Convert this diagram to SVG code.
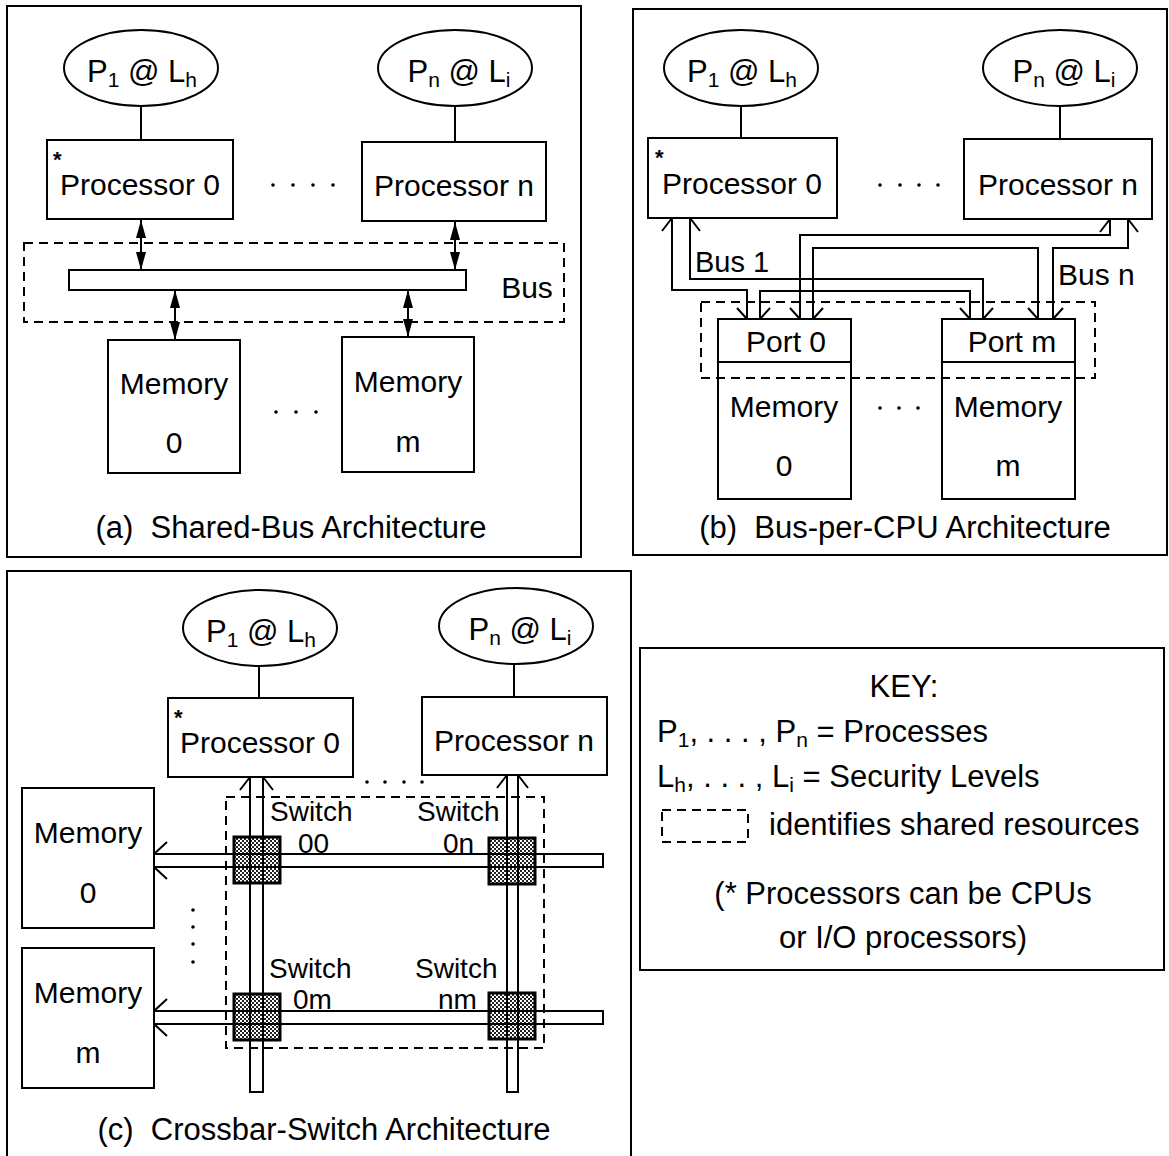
<svg xmlns="http://www.w3.org/2000/svg" width="1169" height="1156" viewBox="0 0 1169 1156">
<style>
.frame{fill:none;stroke:#000;stroke-width:2}
.box{fill:#fff;stroke:#000;stroke-width:2}
.ln{fill:none;stroke:#000;stroke-width:2}
.dash{fill:none;stroke:#000;stroke-width:2;stroke-dasharray:9 6}
.t{font-family:"Liberation Sans",Arial,Helvetica,sans-serif;font-size:30px;fill:#000}
.big{font-size:31px}
.swl{font-size:28px}
.m{text-anchor:middle}
.sub{font-size:21px}
.ast{font-family:"Liberation Sans",Arial,sans-serif;font-size:22px;font-weight:bold;fill:#000}
.sw{fill:url(#stip);stroke:#000;stroke-width:3}
.dot{fill:#000}
</style>
<defs>
<marker id="ah" viewBox="0 0 18 10" refX="18" refY="5" markerWidth="18" markerHeight="10" markerUnits="userSpaceOnUse" orient="auto-start-reverse">
<path d="M0,0 L18,5 L0,10 z" fill="#000"/>
</marker>
<pattern id="stip" width="4" height="4" patternUnits="userSpaceOnUse">
<rect width="4" height="4" fill="#222"/>
<rect width="2" height="2" fill="#fff"/>
<rect x="2" y="2" width="2" height="2" fill="#fff"/>
</pattern>
</defs>
<rect width="1169" height="1156" fill="#fff"/>

<!-- Panel frames -->
<g id="frames">
<rect class="frame" x="7" y="6" width="574" height="551"/>
<rect class="frame" x="633" y="9" width="534" height="546"/>
<path class="frame" d="M7,1160 V571 H631 V1160"/>
</g>

<!-- ===== Panel (a) ===== -->
<g id="a-p1">
<ellipse class="box" cx="141" cy="68" rx="77" ry="38"/>
<text class="t big m" x="142" y="82">P<tspan class="sub" dy="5">1</tspan><tspan dy="-5"> @ L</tspan><tspan class="sub" dy="5">h</tspan></text>
</g>
<g id="a-pn">
<ellipse class="box" cx="455" cy="68" rx="77" ry="38"/>
<text class="t big m" x="459" y="82">P<tspan class="sub" dy="5">n</tspan><tspan dy="-5"> @ L</tspan><tspan class="sub" dy="5">i</tspan></text>
</g>
<g id="a-proc0">
<rect class="box" x="47" y="140" width="186" height="79"/>
<text class="ast" x="53" y="167">*</text>
<text class="t m" x="140" y="195">Processor 0</text>
</g>
<g id="a-procn">
<rect class="box" x="362" y="142" width="184" height="79"/>
<text class="t m" x="454" y="196">Processor n</text>
</g>
<g id="a-dots">
<circle class="dot" cx="273" cy="185" r="1.8"/><circle class="dot" cx="293" cy="185" r="1.8"/><circle class="dot" cx="313" cy="185" r="1.8"/><circle class="dot" cx="333" cy="185" r="1.8"/>
<circle class="dot" cx="276" cy="412" r="1.8"/><circle class="dot" cx="296" cy="412" r="1.8"/><circle class="dot" cx="316" cy="412" r="1.8"/>
</g>
<g id="a-bus">
<rect class="dash" x="24" y="243" width="540" height="79"/>
<rect class="box" x="69" y="270" width="397" height="20"/>
<text class="t m" x="527" y="298">Bus</text>
</g>
<g id="a-mem0">
<rect class="box" x="108" y="340" width="132" height="133"/>
<text class="t m" x="174" y="394">Memory</text>
<text class="t m" x="174" y="453">0</text>
</g>
<g id="a-memm">
<rect class="box" x="342" y="337" width="132" height="135"/>
<text class="t m" x="408" y="392">Memory</text>
<text class="t m" x="408" y="452">m</text>
</g>
<text class="t big m" x="291" y="538" xml:space="preserve">(a)  Shared-Bus Architecture</text>

<!-- ===== Panel (b) ===== -->
<g id="b-p1">
<ellipse class="box" cx="741" cy="68" rx="77" ry="38"/>
<text class="t big m" x="742" y="82">P<tspan class="sub" dy="5">1</tspan><tspan dy="-5"> @ L</tspan><tspan class="sub" dy="5">h</tspan></text>
</g>
<g id="b-pn">
<ellipse class="box" cx="1060" cy="68" rx="77" ry="38"/>
<text class="t big m" x="1064" y="82">P<tspan class="sub" dy="5">n</tspan><tspan dy="-5"> @ L</tspan><tspan class="sub" dy="5">i</tspan></text>
</g>
<g id="b-proc0">
<rect class="box" x="648" y="138" width="189" height="80"/>
<text class="ast" x="655" y="165">*</text>
<text class="t m" x="742" y="194">Processor 0</text>
</g>
<g id="b-procn">
<rect class="box" x="964" y="139" width="188" height="80"/>
<text class="t m" x="1058" y="195">Processor n</text>
</g>
<g id="b-dots">
<circle class="dot" cx="880" cy="185" r="1.8"/><circle class="dot" cx="900" cy="185" r="1.8"/><circle class="dot" cx="919" cy="185" r="1.8"/><circle class="dot" cx="938" cy="185" r="1.8"/>
<circle class="dot" cx="880" cy="408" r="1.8"/><circle class="dot" cx="899" cy="408" r="1.8"/><circle class="dot" cx="918" cy="408" r="1.8"/>
</g>
<g id="b-mem0">
<rect class="box" x="718" y="319" width="133" height="43"/>
<rect class="box" x="718" y="362" width="133" height="137"/>
<text class="t m" x="786" y="352">Port 0</text>
<text class="t m" x="784" y="417">Memory</text>
<text class="t m" x="784" y="476">0</text>
</g>
<g id="b-memm">
<rect class="box" x="942" y="319" width="133" height="43"/>
<rect class="box" x="942" y="362" width="133" height="137"/>
<text class="t m" x="1012" y="352">Port m</text>
<text class="t m" x="1008" y="417">Memory</text>
<text class="t m" x="1008" y="476">m</text>
</g>
<rect id="b-shared" class="dash" x="701" y="302" width="394" height="76"/>
<text class="t" x="695" y="272" style="font-size:29px">Bus 1</text>
<text class="t" x="1058" y="285">Bus n</text>
<text class="t big m" x="905" y="538" xml:space="preserve">(b)  Bus-per-CPU Architecture</text>

<!-- ===== Panel (c) ===== -->
<g id="c-p1">
<ellipse class="box" cx="260" cy="628" rx="77" ry="38"/>
<text class="t big m" x="261" y="642">P<tspan class="sub" dy="5">1</tspan><tspan dy="-5"> @ L</tspan><tspan class="sub" dy="5">h</tspan></text>
</g>
<g id="c-pn">
<ellipse class="box" cx="516" cy="626" rx="77" ry="38"/>
<text class="t big m" x="520" y="640">P<tspan class="sub" dy="5">n</tspan><tspan dy="-5"> @ L</tspan><tspan class="sub" dy="5">i</tspan></text>
</g>
<g id="c-proc0">
<rect class="box" x="168" y="698" width="185" height="79"/>
<text class="ast" x="174" y="725">*</text>
<text class="t m" x="260" y="753">Processor 0</text>
</g>
<g id="c-procn">
<rect class="box" x="422" y="697" width="185" height="78"/>
<text class="t m" x="514" y="751">Processor n</text>
</g>
<g id="c-dots">
<circle class="dot" cx="367" cy="782" r="1.8"/><circle class="dot" cx="385" cy="782" r="1.8"/><circle class="dot" cx="404" cy="782" r="1.8"/><circle class="dot" cx="422" cy="782" r="1.8"/>
<circle class="dot" cx="193" cy="910" r="1.8"/><circle class="dot" cx="193" cy="927" r="1.8"/><circle class="dot" cx="193" cy="944" r="1.8"/><circle class="dot" cx="193" cy="962" r="1.8"/>
</g>
<g id="c-mem0">
<rect class="box" x="22" y="788" width="132" height="140"/>
<text class="t m" x="88" y="843">Memory</text>
<text class="t m" x="88" y="903">0</text>
</g>
<g id="c-memm">
<rect class="box" x="22" y="948" width="132" height="140"/>
<text class="t m" x="88" y="1003">Memory</text>
<text class="t m" x="88" y="1063">m</text>
</g>
<rect id="c-shared" class="dash" x="226" y="797" width="318" height="251"/>
<g id="c-sw00">
<rect class="sw" x="234" y="837" width="46" height="46"/>
<text class="t swl" x="270" y="821">Switch</text>
<text class="t swl" x="298" y="853">00</text>
</g>
<g id="c-sw0n">
<rect class="sw" x="489" y="838" width="46" height="46"/>
<text class="t swl" x="417" y="821">Switch</text>
<text class="t swl" x="443" y="853">0n</text>
</g>
<g id="c-sw0m">
<rect class="sw" x="234" y="994" width="46" height="46"/>
<text class="t swl" x="269" y="978">Switch</text>
<text class="t swl" x="293" y="1009">0m</text>
</g>
<g id="c-swnm">
<rect class="sw" x="489" y="993" width="46" height="46"/>
<text class="t swl" x="415" y="978">Switch</text>
<text class="t swl" x="438" y="1009">nm</text>
</g>
<text class="t big m" x="324" y="1140" xml:space="preserve">(c)  Crossbar-Switch Architecture</text>

<!-- ===== Key ===== -->
<g id="key">
<rect class="box" x="640" y="648" width="524" height="322"/>
<text class="t big m" x="904" y="697">KEY:</text>
<text class="t big" x="657" y="742">P<tspan class="sub" dy="5">1</tspan><tspan dy="-5">, . . . , P</tspan><tspan class="sub" dy="5">n</tspan><tspan dy="-5"> = Processes</tspan></text>
<text class="t big" x="657" y="787">L<tspan class="sub" dy="5">h</tspan><tspan dy="-5">, . . . , L</tspan><tspan class="sub" dy="5">i</tspan><tspan dy="-5"> = Security Levels</tspan></text>
<rect class="dash" x="662" y="810" width="86" height="32"/>
<text class="t big" x="769" y="835">identifies shared resources</text>
<text class="t big m" x="903" y="904">(* Processors can be CPUs</text>
<text class="t big m" x="903" y="948">or I/O processors)</text>
</g>

<!-- ===== Connectors ===== -->
<g id="connectors">
<!-- (a) -->
<path class="ln" d="M141,106 V140 M455,106 V142"/>
<line class="ln" x1="141" y1="220" x2="141" y2="270" marker-start="url(#ah)" marker-end="url(#ah)"/>
<line class="ln" x1="455" y1="222" x2="455" y2="270" marker-start="url(#ah)" marker-end="url(#ah)"/>
<line class="ln" x1="175" y1="290" x2="175" y2="340" marker-start="url(#ah)" marker-end="url(#ah)"/>
<line class="ln" x1="408" y1="290" x2="408" y2="337" marker-start="url(#ah)" marker-end="url(#ah)"/>
<!-- (b) -->
<path class="ln" d="M741,106 V138 M1060,106 V139"/>
<path class="ln" d="M672,218 V290 H747 V319 M690,218 V279 H983 V319 M760,319 V291 H970 V319"/>
<path class="ln" d="M1110,219 V235 H800 V319 M813,319 V248 H1038 V319 M1128,219 V248 H1053 V319"/>
<path class="ln" d="M662,231 L672,218 M690,218 L700,231 M1100,232 L1110,219 M1128,219 L1138,232"/>
<path class="ln" d="M737,308 L747,319 M760,319 L770,308 M790,308 L800,319 M813,319 L823,308"/>
<path class="ln" d="M960,308 L970,319 M983,319 L993,308 M1028,308 L1038,319 M1053,319 L1063,308"/>
<!-- (c) -->
<path class="ln" d="M259,666 V698 M514,664 V697"/>
<path class="ln" d="M250,777 V1092 H263 V777 M507,775 V1092 H518 V775"/>
<path class="ln" d="M154,854 H603 V867 H154 M154,1011 H603 V1024 H154"/>
<path class="ln" d="M240,790 L250,777 M263,777 L273,790 M497,788 L507,775 M518,775 L528,788"/>
<path class="ln" d="M167,842 L154,854 M154,867 L167,879 M167,999 L154,1011 M154,1024 L167,1036"/>
</g>
</svg>
